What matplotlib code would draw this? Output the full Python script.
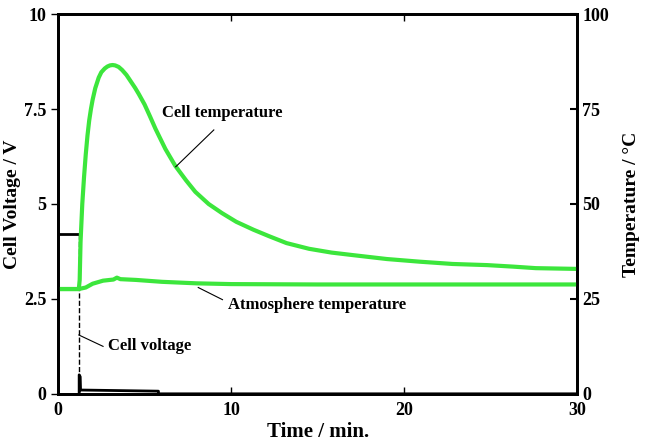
import matplotlib.pyplot as plt

# time (min) and values
t_cell = [0, 1.2, 1.25, 1.3, 1.4, 1.5, 1.6, 1.7, 1.8, 1.9, 2.0, 2.15, 2.35, 2.5, 2.7,
          2.85, 3.0, 3.15, 3.3, 3.5, 3.7, 3.95, 4.2, 4.45,
          4.66, 5.0, 5.3, 5.63, 6.2, 6.78, 7.4, 7.93, 8.7, 9.47, 10.3, 11.3, 12.2, 13.2,
          14.5, 15.8, 17.1, 19, 20.9, 22.8, 24.8, 26.3, 27.6, 30]
temp_cell = [27.6, 27.6, 30, 40, 50, 57, 63, 68, 72, 75, 77.5, 80.5, 83.3, 84.7, 85.7,
             86.2, 86.5, 86.6, 86.5, 86.1, 85.3, 84.0, 82.3, 80.6,
             79, 76.2, 73.2, 69.8, 64.5, 60.0, 56.2, 53.2, 50.0, 47.6, 45.3, 43.2, 41.5, 39.7,
             38.2, 37.2, 36.5, 35.5, 34.8, 34.2, 33.9, 33.5, 33.1, 32.9]

t_atm = [0, 1.2, 1.6, 2.0, 2.6, 3.2, 3.4, 3.6, 4.5, 6, 8, 10, 15, 20, 25, 30]
temp_atm = [27.6, 27.6, 28.0, 29.0, 29.8, 30.1, 30.6, 30.2, 30.0, 29.5, 29.1, 28.9,
            28.8, 28.8, 28.8, 28.8]

t_volt = [0, 1.2]
volt = [4.2, 4.2]
t_volt2 = [1.22, 1.22, 1.28, 1.3, 5.8, 5.8, 30]
volt2 = [0.0, 0.5, 0.45, 0.1, 0.07, 0.0, 0.0]
t_drop = 1.2

green = '#3ce63c'
font = 'Liberation Serif'

fig, ax = plt.subplots(figsize=(6.45, 4.42), dpi=100)
fig.subplots_adjust(left=0.09, right=0.895, bottom=0.109, top=0.968)
ax2 = ax.twinx()

ax.plot(t_volt, volt, color='black', lw=2)
ax.plot([t_drop, t_drop], [volt[-1], 0], color='black', lw=1, ls='--')
ax.plot(t_volt2, volt2, color='black', lw=2)

ax2.plot(t_atm, temp_atm, color=green, lw=3)
ax2.plot(t_cell, temp_cell, color=green, lw=3)

ax.set_xlim(0, 30)
ax.set_ylim(0, 10)
ax2.set_ylim(0, 100)
ax.set_xticks([0, 10, 20, 30])
ax.set_yticks([0, 2.5, 5, 7.5, 10])
ax.set_yticklabels(['0', '2.5', '5', '7.5', '10'])
ax2.set_yticks([0, 25, 50, 75, 100])

for a in (ax, ax2):
    for s in a.spines.values():
        s.set_linewidth(2)
ax.tick_params(axis='x', direction='in', top=True, length=5, width=1, pad=6)
ax.tick_params(axis='y', direction='out', length=5, width=1)
ax2.tick_params(axis='y', direction='in', length=5, width=1.5)
for lab in ax.get_xticklabels() + ax.get_yticklabels() + ax2.get_yticklabels():
    lab.set_fontfamily(font)
    lab.set_fontweight('bold')
    lab.set_fontsize(13)

ax.set_xlabel('Time / min.', fontfamily=font, fontweight='bold', fontsize=15, labelpad=2)
ax.set_ylabel('Cell Voltage / V', fontfamily=font, fontweight='bold', fontsize=14, labelpad=2)
ax2.set_ylabel('Temperature / °C', fontfamily=font, fontweight='bold', fontsize=14, labelpad=10)

# annotations
kw = dict(fontfamily=font, fontweight='bold', fontsize=12, va='center')
ax2.text(6.0, 74, 'Cell temperature', **kw)
ax2.plot([9.0, 6.8], [69.5, 59.8], color='black', lw=0.8)
ax2.text(9.8, 23.5, 'Atmosphere temperature', **kw)
ax2.plot([8.1, 9.5], [28.0, 24.8], color='black', lw=0.8)
ax.text(2.9, 1.25, 'Cell voltage', **kw)
ax.plot([1.2, 2.6], [1.55, 1.25], color='black', lw=0.8)

fig.savefig('out.png', dpi=100)
